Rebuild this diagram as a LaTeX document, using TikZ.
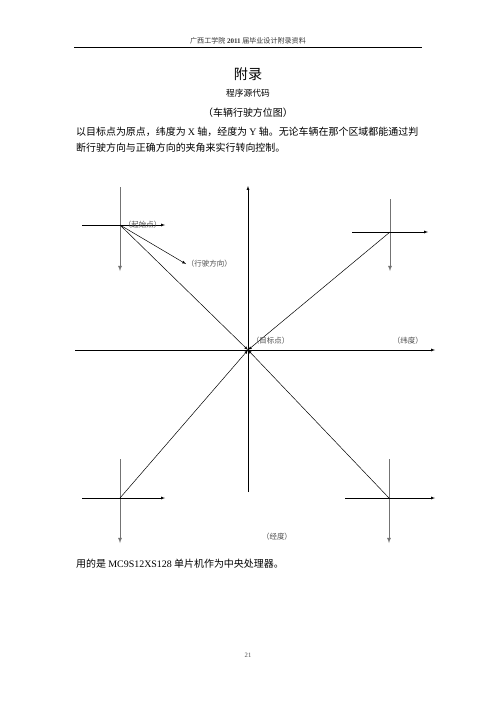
\documentclass[tikz,border=0pt]{standalone}
\usepackage{fontspec}
\setmainfont{Liberation Serif}
\newfontfamily\cjk{Noto Sans CJK SC}
\usetikzlibrary{arrows}

\begin{document}
\begin{tikzpicture}[x=0.4234mm, y=-0.4234mm,
    axisline/.style={-latex, semithick, black},
    crossh/.style={-latex, semithick, black},
    crossv/.style={-latex, line width=1.1pt, black!55},
    diag/.style={-latex, semithick, black},
    lbl/.style={font=\cjk\fontsize{9}{10}\selectfont, text=black!70, inner sep=1pt},
    txt/.style={font=\cjk\fontsize{12}{14}\selectfont, inner sep=0pt}]
  \useasboundingbox (0,0) rectangle (496,702);
  % page head
  \node[font=\cjk\fontsize{8.5}{10}\selectfont, text=black!80, inner sep=0pt] (head) at (248,41) {广西工学院 {\rmfamily\bfseries 2011} 届毕业设计附录资料};
  \draw[line width=0.9pt] (74,47.5) -- (422,47.5);
  \node[font=\cjk\fontsize{17}{19}\selectfont, inner sep=0pt] (title) at (248,74) {附录};
  \node[font=\cjk\fontsize{10.5}{12}\selectfont, inner sep=0pt] (subtitle) at (248,93) {程序源代码};
  \node[txt] (caption) at (248,113) {（车辆行驶方位图）};
  \node[txt, anchor=west] (para1) at (76,132) {以目标点为原点，纬度为 {\rmfamily X} 轴，经度为 {\rmfamily Y} 轴。无论车辆在那个区域都能通过判};
  \node[txt, anchor=west] (para2) at (76,148) {断行驶方向与正确方向的夹角来实行转向控制。};
  % axes
  \coordinate (O) at (248,350);
  \coordinate (xL) at (75,350);
  \coordinate (xR) at (435,350);
  \coordinate (yB) at (248,492);
  \coordinate (yT) at (248,186);
  \draw[axisline] (xL) -- (xR);
  \draw[axisline] (yB) -- (yT);
  % the four cars
  \coordinate (ul) at (120,225);
  \coordinate (ur) at (390,232);
  \coordinate (ll) at (120,498);
  \coordinate (lr) at (389,498);
  \draw[crossv] (ul) ++(0,-38) -- ++(0,84);
  \draw[crossh] (ul) ++(-38,0) -- ++(83,0);
  \draw[crossv] (ur) ++(0,-33) -- ++(0,72);
  \draw[crossh] (ur) ++(-38,0) -- ++(76,0);
  \draw[crossv] (ll) ++(0,-39) -- ++(0,84);
  \draw[crossh] (ll) ++(-38,0) -- ++(83,0);
  \draw[crossv] (lr) ++(0,-39) -- ++(0,84);
  \draw[crossh] (lr) ++(-44,0) -- ++(90,0);
  \draw[diag] (ul) -- (O);
  \draw[diag] (ur) -- (O);
  \draw[diag] (ll) -- (O);
  \draw[diag] (lr) -- (O);
  % labels
  \node[lbl, anchor=west] (dir) at (186,264) {（行驶方向）};
  \draw[diag] (ul) -- (dir.west);
  \node[lbl, anchor=west] (start) at (123,225) {（起始点）};
  \node[lbl, anchor=west] (target) at (251,341) {（目标点）};
  \node[lbl, anchor=west] (lat) at (392,341) {（纬度）};
  \node[lbl] (lon) at (277,537) {（经度）};
  % foot
  \node[txt, anchor=west] (para3) at (76,564) {用的是 {\rmfamily MC9S12XS128} 单片机作为中央处理器。};
  \node[font=\rmfamily\fontsize{8}{9}\selectfont, text=black!70, inner sep=0pt] (pageno) at (248,655) {21};
\end{tikzpicture}
\end{document}
